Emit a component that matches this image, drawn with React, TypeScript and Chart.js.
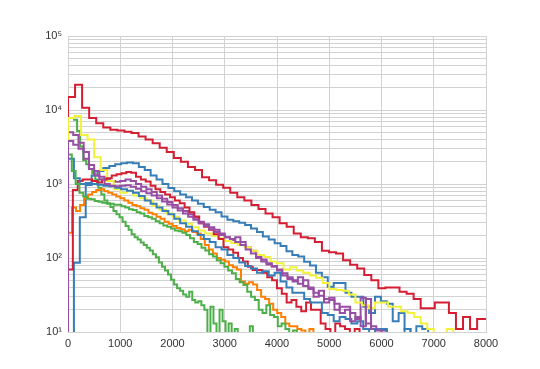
import { useEffect, useRef } from 'react';
import { Chart, registerables } from 'chart.js';

Chart.register(...registerables);

// x axis ticks and y axis (log) tick values
const xTickValues = [0, 1000, 2000, 3000, 4000, 5000, 6000, 7000, 8000];
const yTickValues = [
  10, 20, 30, 40, 50, 60, 70, 80, 90,
  100, 200, 300, 400, 500, 600, 700, 800, 900,
  1000, 2000, 3000, 4000, 5000, 6000, 7000, 8000, 9000,
  10000, 20000, 30000, 40000, 50000, 60000, 70000, 80000, 90000,
  100000,
];
const superscripts = ['⁰', '¹', '²', '³', '⁴', '⁵', '⁶'];

// histogram counts per bin (bins start at 0)
const red1Counts = [15000, 22000, 10700, 7800, 6600, 5800, 5400, 5300, 5100, 4900, 4400, 4000, 3550, 3100, 2700, 2250, 2000, 1700, 1550, 1230, 1120, 980, 890, 760, 660, 600, 520, 460, 400, 355, 295, 265, 215, 190, 185, 165, 125, 120, 115, 93, 81, 72, 59, 50, 39, 40, 40, 35, 33, 28, 21, 21, 25, 25, 18, 11, 16, 11, 15, 15];
const blue1Counts = [3, 86, 355, 970, 1300, 1500, 1650, 1750, 1850, 1900, 1950, 1900, 1700, 1550, 1300, 1150, 1000, 880, 800, 720, 660, 600, 540, 490, 450, 415, 365, 330, 315, 300, 280, 250, 225, 195, 178, 158, 145, 123, 110, 105, 89, 79, 63, 55, 41, 46, 46, 34, 30, 30, 22, 18, 30, 26, 24, 14, 18, 11, 5, 12, 11, 3];
const green1Counts = [7800, 7800, 7400, 5200, 3200, 2100, 1850, 1600, 1400, 1150, 890, 720, 600, 540, 490, 430, 390, 355, 310, 270, 240, 210, 190, 178, 162, 150, 138, 126, 112, 102, 87, 76, 68, 60, 51, 44, 39, 36, 32, 30, 35, 27, 25, 26, 23, 20, 5, 22, 13, 5, 20, 14, 5, 13, 5, 11, 5, 5, 5, 5, 12, 5];
const purple1Counts = [5000, 4600, 3600, 2700, 1800, 1500, 1250, 1150, 1100, 1070, 1100, 1150, 1100, 1000, 920, 850, 780, 700, 630, 570, 520, 470, 430, 390, 350, 310, 285, 260, 240, 215, 190, 175, 190, 165, 140, 125, 105, 95, 82, 76, 68, 58, 52, 48, 45, 50, 38, 34, 31, 28, 29, 20, 22, 22, 18, 15, 29, 13, 11, 11, 10.5];
const orangeCounts = [220, 480, 430, 520, 640, 720, 780, 830, 850, 800, 760, 720, 680, 640, 600, 560, 520, 500, 470, 450, 410, 390, 360, 340, 310, 290, 270, 255, 245, 230, 240, 225, 215, 180, 150, 130, 115, 100, 95, 90, 80, 75, 70, 48, 45, 47, 44, 37, 30, 28, 24, 20, 18, 16, 13, 12, 12, 11, 10.5, 5, 11];
const yellowCounts = [7800, 8300, 4600, 4000, 2300, 1550, 1100, 850, 760, 800, 700, 640, 600, 510, 450, 400, 360, 320, 290, 260, 235, 215, 200, 185, 170, 160, 150, 140, 125, 110, 103, 90, 85, 70, 75, 68, 63, 58, 54, 46, 38, 37, 36, 32, 25, 23, 21, 25, 25, 22, 22, 19, 18, 16, 13, 11, 5, 5, 11, 5];
const red2Counts = [70, 830, 1100, 1150, 1150, 1100, 1050, 1150, 1200, 1300, 1350, 1400, 1450, 1420, 1250, 1150, 1080, 950, 850, 780, 720, 660, 600, 550, 480, 415, 365, 295, 265, 240, 210, 180, 140, 130, 118, 100, 90, 76, 69, 69, 63, 55, 50, 39, 33, 25, 27, 22, 19, 25, 20, 20, 13, 11, 5, 13, 12, 11, 5, 11];
const blue2Counts = [2200, 1200, 1000, 1030, 1000, 980, 950, 930, 890, 850, 810, 760, 690, 600, 540, 480, 430, 390, 340, 295, 265, 230, 205, 180, 165, 140, 130, 110, 100, 87, 78, 72, 63, 66, 58, 63, 48, 40, 34, 34, 28, 25, 25, 18, 17, 14, 16, 15, 13, 14, 11, 5, 11, 11, 5, 5, 5, 11];
const green2Counts = [2500, 1500, 1000, 760, 680, 630, 620, 590, 575, 560, 550, 540, 525, 525, 500, 480, 455, 445, 415, 400, 370, 355, 340, 315, 295, 275, 265, 250, 235, 230, 220, 205, 185, 165, 155, 138, 126, 112, 105, 93, 85, 76, 68, 62, 52, 47, 43, 35, 30, 27, 20, 18, 23, 17, 16, 12, 13, 11, 5, 10.5];
const purple2Counts = [3800, 3400, 3000, 2200, 1600, 1300, 1150, 1000, 950, 930, 950, 960, 920, 860, 800, 750, 700, 640, 580, 530, 480, 440, 400, 360, 330, 295, 270, 245, 225, 205, 190, 180, 165, 150, 130, 115, 100, 90, 85, 78, 70, 62, 55, 50, 55, 42, 40, 30, 36, 25, 27, 24, 18, 20, 14, 16, 12, 28, 12, 10.5];

// series in plotting order
const seriesCounts = [red1Counts, blue1Counts, green1Counts, purple1Counts, orangeCounts, yellowCounts, red2Counts, blue2Counts, green2Counts, purple2Counts];
const seriesBinWidths = [135, 113, 58, 100, 77, 125, 93, 113, 73, 100];
const seriesColors = ['#d41f33', '#377eb8', '#4daf4a', '#984ea3', '#ff7f00', '#f2f23c', '#d41f33', '#377eb8', '#4daf4a', '#984ea3'];

const FLOOR = 1;

function histPoints(counts: number[], width: number) {
  const pts: { x: number; y: number }[] = [{ x: 0, y: FLOOR }];
  counts.forEach((c, i) => pts.push({ x: i * width, y: c }));
  const end = counts.length * width;
  pts.push({ x: end, y: counts[counts.length - 1] });
  pts.push({ x: end, y: FLOOR });
  return pts;
}

export default function App() {
  const ref = useRef<HTMLCanvasElement | null>(null);

  useEffect(() => {
    if (!ref.current) return;
    const gridColor = '#d2d2d2';
    const datasets = seriesCounts
      .map((counts, i) => ({
        data: histPoints(counts, seriesBinWidths[i]),
        borderColor: seriesColors[i],
        borderWidth: 2,
        pointRadius: 0,
        stepped: 'before' as const,
        fill: false,
        tension: 0,
      }))
      .reverse();

    const chart = new Chart(ref.current, {
      type: 'line',
      data: { datasets },
      options: {
        animation: false,
        responsive: false,
        events: [],
        layout: { padding: { left: 0, top: 36, right: 54, bottom: 0 } },
        plugins: { legend: { display: false }, tooltip: { enabled: false }, title: { display: false } },
        scales: {
          x: {
            type: 'linear',
            min: 0,
            max: 8000,
            afterFit: (s: any) => { s.height = 37; },
            afterBuildTicks: (s: any) => { s.ticks = xTickValues.map((v) => ({ value: v })); },
            grid: { color: gridColor, drawTicks: false, lineWidth: 1 },
            border: { color: gridColor },
            ticks: {
              padding: 5,
              color: '#333',
              font: { family: '"Liberation Sans", Arial, sans-serif', size: 11 },
              maxRotation: 0,
              autoSkip: false,
              callback: (v: any) => String(v),
            },
          },
          y: {
            type: 'logarithmic',
            min: 10,
            max: 100000,
            afterFit: (s: any) => { s.width = 68; },
            afterBuildTicks: (s: any) => { s.ticks = yTickValues.map((v) => ({ value: v })); },
            grid: { color: gridColor, drawTicks: false, lineWidth: 1 },
            border: { color: gridColor },
            ticks: {
              padding: 6,
              color: '#333',
              autoSkip: false,
              font: { family: '"Liberation Sans", Arial, sans-serif', size: 11 },
              callback: (v: any) => {
                const l = Math.log10(Number(v));
                const r = Math.round(l);
                if (Math.abs(l - r) < 1e-9) return '10' + superscripts[r];
                return '';
              },
            },
          },
        },
      },
    });
    return () => chart.destroy();
  }, []);

  return (
    <canvas
      ref={ref}
      width={540}
      height={369}
      style={{ position: 'fixed', left: 0, top: 0, width: 540, height: 369 }}
    />
  );
}
